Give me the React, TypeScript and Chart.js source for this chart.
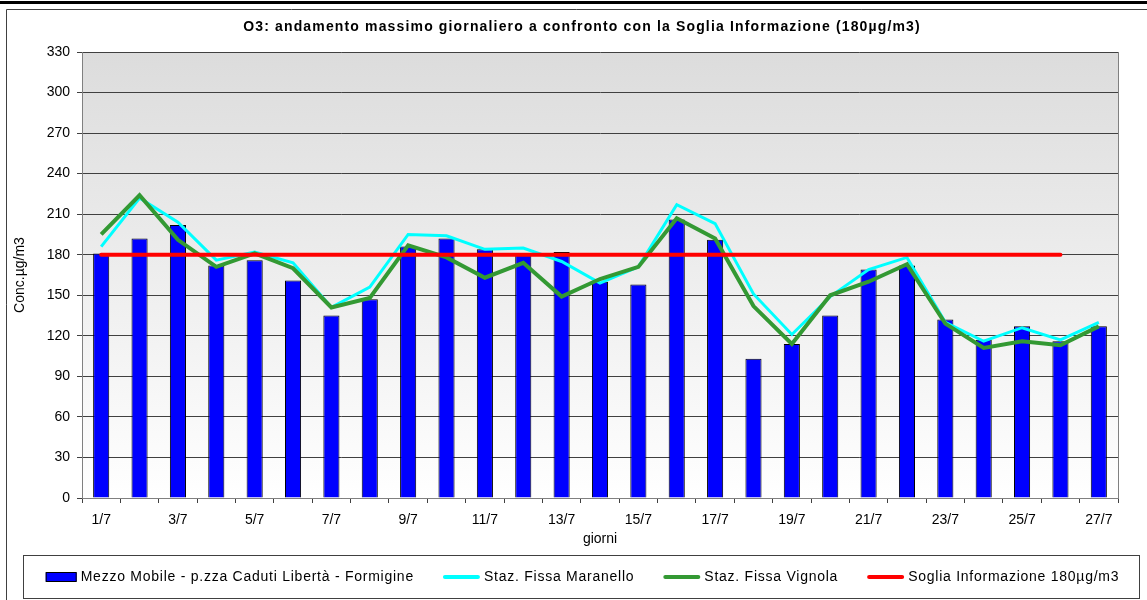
import React, { useEffect, useRef } from 'react';
import { Chart, registerables } from 'chart.js';

Chart.register(...registerables);

const chartTitle = 'O3: andamento massimo giornaliero a confronto con la Soglia Informazione (180µg/m3)';
const yAxisTitle = 'Conc.µg/m3';
const xAxisTitle = 'giorni';

const days = ['1/7', '2/7', '3/7', '4/7', '5/7', '6/7', '7/7', '8/7', '9/7', '10/7', '11/7', '12/7', '13/7', '14/7', '15/7', '16/7', '17/7', '18/7', '19/7', '20/7', '21/7', '22/7', '23/7', '24/7', '25/7', '26/7', '27/7'];
const shownDayLabels = ['1/7', '3/7', '5/7', '7/7', '9/7', '11/7', '13/7', '15/7', '17/7', '19/7', '21/7', '23/7', '25/7', '27/7'];

const yTickMin = 0;
const yTickMax = 330;
const yTickStep = 30;

const seriesNames = [
  'Mezzo Mobile - p.zza Caduti Libertà - Formigine',
  'Staz. Fissa Maranello',
  'Staz. Fissa Vignola',
  'Soglia Informazione 180µg/m3',
];

const mezzoMobile = [181, 192, 202, 172, 176, 161, 135, 147, 186, 192, 184, 180, 182, 160, 158, 206, 191, 103, 114, 135, 169, 172, 132, 117, 127, 116, 127];
const maranello = [186, 222, 204, 176, 182, 174, 141, 156, 195, 194, 184, 185, 175, 159, 171, 217, 203, 151, 121, 149, 169, 178, 130, 116, 126, 117, 130];
const vignola = [195, 224, 191, 171, 181, 170, 141, 148, 187, 178, 163, 174, 149, 162, 171, 207, 192, 142, 114, 150, 160, 173, 129, 111, 116, 113, 127];
const soglia = [180, 180, 180, 180, 180, 180, 180, 180, 180, 180, 180, 180, 180, 180, 180, 180, 180, 180, 180, 180, 180, 180, 180, 180, 180, 180, null];

const seriesColors = ['#0000FF', '#00FFFF', '#339933', '#FF0000'];

const FONT_FAMILY = '"Liberation Sans", Arial, sans-serif';

const decorPlugin = {
  id: 'decor',
  beforeDraw(chart: any) {
    const { ctx, chartArea: a, width, height } = chart;
    ctx.save();
    ctx.fillStyle = '#ffffff';
    ctx.fillRect(0, 0, width, height);
    const g = ctx.createLinearGradient(0, a.top, 0, a.bottom);
    g.addColorStop(0, '#dcdcdc');
    g.addColorStop(1, '#ffffff');
    ctx.fillStyle = g;
    ctx.fillRect(a.left, a.top, a.right - a.left, a.bottom - a.top);
    ctx.restore();
  },
  beforeDatasetsDraw(chart: any) {
    const { ctx, chartArea: a } = chart;
    ctx.save();
    ctx.strokeStyle = '#808080';
    ctx.lineWidth = 1;
    ctx.beginPath();
    ctx.moveTo(Math.round(a.right) + 0.5, a.top);
    ctx.lineTo(Math.round(a.right) + 0.5, a.bottom);
    ctx.stroke();
    ctx.restore();
  },
  afterDraw(chart: any) {
    const { ctx, width, height } = chart;
    ctx.save();
    // outer frame
    ctx.fillStyle = '#000000';
    ctx.fillRect(0, 1, width, 3);
    ctx.strokeStyle = '#404040';
    ctx.lineWidth = 1;
    ctx.beginPath();
    ctx.moveTo(6.5, height);
    ctx.lineTo(6.5, 9.5);
    ctx.lineTo(width, 9.5);
    ctx.stroke();

    // title
    ctx.fillStyle = '#000000';
    ctx.font = 'bold 14px ' + FONT_FAMILY;
    ctx.textAlign = 'center';
    ctx.textBaseline = 'middle';
    const tw = ctx.measureText(chartTitle).width;
    const targetW = 678;
    if (tw < targetW) {
      (ctx as any).letterSpacing = ((targetW - tw) / chartTitle.length).toFixed(2) + 'px';
    }
    ctx.fillText(chartTitle, 582, 27);
    (ctx as any).letterSpacing = '0px';

    // legend box
    ctx.strokeStyle = '#404040';
    ctx.strokeRect(23.5, 555.5, 1116, 43);

    ctx.font = '14px ' + FONT_FAMILY;
    (ctx as any).letterSpacing = '0.75px';
    ctx.textAlign = 'left';
    ctx.textBaseline = 'middle';
    const boxW = 31;
    const lineW = 37;
    const symGap = 4;
    const itemGap = 29;
    const ds = chart.data.datasets;
    const symWidth = (d: any) => (d.type === 'bar' ? boxW : lineW);
    const widths = ds.map((d: any) => symWidth(d) + symGap + ctx.measureText(d.label).width);
    const total = widths.reduce((s: number, w: number) => s + w, 0) + itemGap * (ds.length - 1);
    let x = 582.5 - total / 2;
    const y = 577;
    ds.forEach((d: any, i: number) => {
      const sw = symWidth(d);
      if (d.type === 'bar') {
        ctx.fillStyle = d.backgroundColor;
        ctx.fillRect(x, y - 4.5, sw, 9);
        ctx.strokeStyle = '#000';
        ctx.lineWidth = 1;
        ctx.strokeRect(x + 0.5, y - 4.5, sw - 1, 9);
      } else {
        ctx.strokeStyle = d.borderColor;
        ctx.lineWidth = 4;
        ctx.lineCap = 'round';
        ctx.beginPath();
        ctx.moveTo(x + 2, y);
        ctx.lineTo(x + sw - 2, y);
        ctx.stroke();
      }
      ctx.fillStyle = '#000';
      ctx.fillText(d.label, x + sw + symGap, y);
      x += widths[i] + itemGap;
    });
    (ctx as any).letterSpacing = '0px';
    ctx.restore();
  },
};

export default function App() {
  const ref = useRef<HTMLCanvasElement | null>(null);

  useEffect(() => {
    if (!ref.current) return;
    const tickFont = { family: FONT_FAMILY, size: 14 };
    const chart = new Chart(ref.current, {
      type: 'bar',
      data: {
        labels: days,
        datasets: [
          {
            type: 'bar',
            label: seriesNames[0],
            data: mezzoMobile,
            backgroundColor: seriesColors[0],
            borderColor: '#000000',
            borderWidth: 1,
            barPercentage: 0.42,
            categoryPercentage: 1,
            order: 4,
          },
          {
            type: 'line',
            label: seriesNames[1],
            data: maranello,
            borderColor: seriesColors[1],
            backgroundColor: seriesColors[1],
            borderWidth: 3,
            pointRadius: 0,
            tension: 0,
            order: 3,
          },
          {
            type: 'line',
            label: seriesNames[2],
            data: vignola,
            borderColor: seriesColors[2],
            backgroundColor: seriesColors[2],
            borderWidth: 4,
            pointRadius: 0,
            tension: 0,
            order: 2,
          },
          {
            type: 'line',
            label: seriesNames[3],
            data: soglia,
            borderColor: seriesColors[3],
            backgroundColor: seriesColors[3],
            borderWidth: 4,
            borderCapStyle: 'round',
            pointRadius: 0,
            tension: 0,
            spanGaps: false,
            order: 1,
          },
        ] as any,
      },
      options: {
        responsive: false,
        animation: false,
        layout: { padding: { top: 52, left: 0, right: 29, bottom: 52 } },
        plugins: {
          legend: { display: false },
          title: { display: false },
          tooltip: { enabled: false },
        },
        scales: {
          x: {
            grid: { display: true, drawOnChartArea: false, drawTicks: true, tickLength: 5, color: '#404040', offset: true },
            border: { color: '#808080' },
            ticks: {
              autoSkip: false,
              maxRotation: 0,
              minRotation: 0,
              padding: 9,
              color: '#000',
              font: tickFont,
              callback: (_v: any, i: number) => (shownDayLabels.includes(days[i]) ? days[i] : ''),
            },
            title: { display: true, text: xAxisTitle, color: '#000', font: tickFont, padding: 0 },
            afterFit: (s: any) => {
              s.height = 50;
            },
          } as any,
          y: {
            min: yTickMin,
            max: yTickMax,
            grid: { color: '#404040', tickLength: 5, drawTicks: true },
            border: { color: '#808080' },
            ticks: { stepSize: yTickStep, padding: 7, color: '#000', font: tickFont },
            title: { display: true, text: yAxisTitle, color: '#000', font: tickFont, padding: { top: 12, bottom: 0 } },
            afterFit: (s: any) => {
              s.width = 82;
            },
          } as any,
        },
      },
      plugins: [decorPlugin],
    });
    return () => chart.destroy();
  }, []);

  return (
    <div style={{ position: 'absolute', left: 0, top: 0, width: 1147, height: 600 }}>
      <canvas ref={ref} width={1147} height={600} />
    </div>
  );
}
